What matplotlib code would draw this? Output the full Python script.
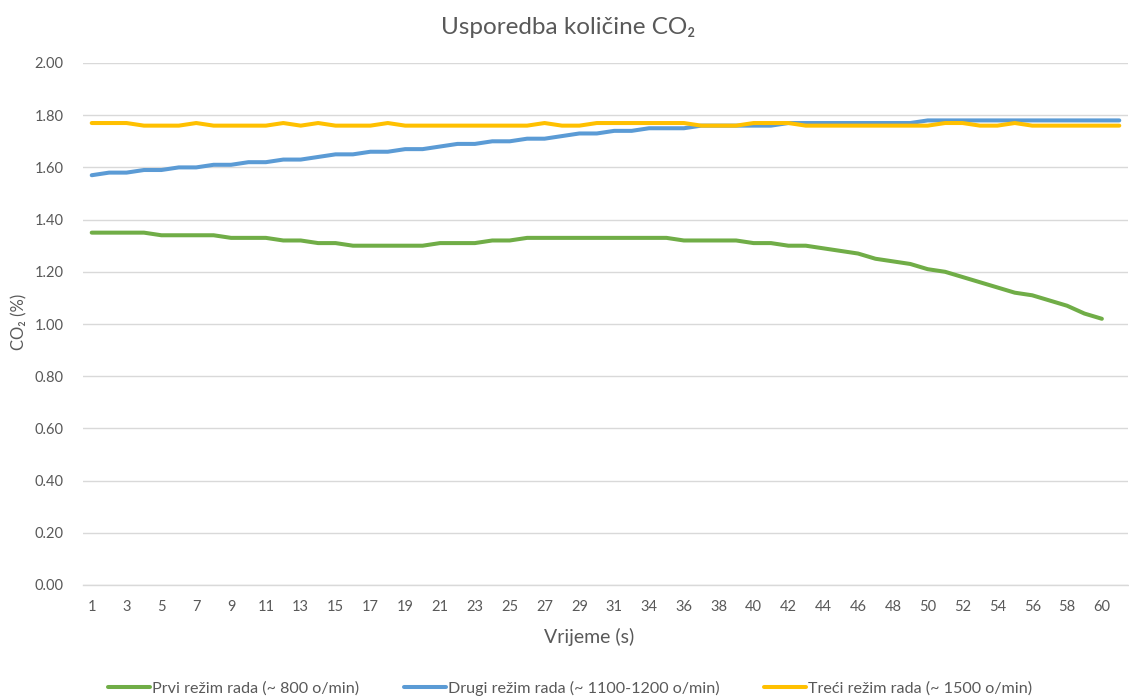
import matplotlib
matplotlib.use("Agg")
import matplotlib.pyplot as plt

plt.rcParams['font.family'] = ['Lato', 'DejaVu Sans']

categories = list(range(1, 32)) + list(range(33, 62))

prvi = [1.35, 1.35, 1.35, 1.35, 1.34, 1.34, 1.34, 1.34, 1.33, 1.33,
        1.33, 1.32, 1.32, 1.31, 1.31, 1.30, 1.30, 1.30, 1.30, 1.30,
        1.31, 1.31, 1.31, 1.32, 1.32, 1.33, 1.33, 1.33, 1.33, 1.33,
        1.33, 1.33, 1.33, 1.33, 1.32, 1.32, 1.32, 1.32, 1.31, 1.31,
        1.30, 1.30, 1.29, 1.28, 1.27, 1.25, 1.24, 1.23, 1.21, 1.20,
        1.18, 1.16, 1.14, 1.12, 1.11, 1.09, 1.07, 1.04, 1.02]

drugi = [1.57, 1.58, 1.58, 1.59, 1.59, 1.60, 1.60, 1.61, 1.61, 1.62,
         1.62, 1.63, 1.63, 1.64, 1.65, 1.65, 1.66, 1.66, 1.67, 1.67,
         1.68, 1.69, 1.69, 1.70, 1.70, 1.71, 1.71, 1.72, 1.73, 1.73,
         1.74, 1.74, 1.75, 1.75, 1.75, 1.76, 1.76, 1.76, 1.76, 1.76,
         1.77, 1.77, 1.77, 1.77, 1.77, 1.77, 1.77, 1.77, 1.78, 1.78,
         1.78, 1.78, 1.78, 1.78, 1.78, 1.78, 1.78, 1.78, 1.78, 1.78]

treci = [1.77, 1.77, 1.77, 1.76, 1.76, 1.76, 1.77, 1.76, 1.76, 1.76,
         1.76, 1.77, 1.76, 1.77, 1.76, 1.76, 1.76, 1.77, 1.76, 1.76,
         1.76, 1.76, 1.76, 1.76, 1.76, 1.76, 1.77, 1.76, 1.76, 1.77,
         1.77, 1.77, 1.77, 1.77, 1.77, 1.76, 1.76, 1.76, 1.77, 1.77,
         1.77, 1.76, 1.76, 1.76, 1.76, 1.76, 1.76, 1.76, 1.76, 1.77,
         1.77, 1.76, 1.76, 1.77, 1.76, 1.76, 1.76, 1.76, 1.76, 1.76]

series_names = ["Prvi režim rada (~ 800 o/min)",
                "Drugi režim rada (~ 1100-1200 o/min)",
                "Treći režim rada (~ 1500 o/min)"]
colors = ["#70AD47", "#5B9BD5", "#FFC000"]
yticks = [0.0, 0.2, 0.4, 0.6, 0.8, 1.0, 1.2, 1.4, 1.6, 1.8, 2.0]

W, H = 1129, 700
fig = plt.figure(figsize=(W / 100, H / 100), dpi=100)
ax = fig.add_axes([83 / W, (H - 585) / H, (1128 - 83) / W, (585 - 63) / H])

x = list(range(len(categories)))
for vals, name, c in zip([prvi, drugi, treci], series_names, colors):
    ax.plot(x[:len(vals)], vals, color=c, linewidth=2.9, label=name,
            solid_capstyle='round', solid_joinstyle='round', zorder=3)

ax.set_xlim(-0.5, len(categories) - 0.5)
ax.set_ylim(0, 2.0)
ax.set_yticks(yticks)
ax.set_yticklabels([f"{v:.2f}" for v in yticks])
ax.set_xticks(x[::2])
ax.set_xticklabels([str(c) for c in categories[::2]])

for s in ['top', 'right', 'left']:
    ax.spines[s].set_visible(False)
ax.spines['bottom'].set_color('#d9d9d9')
ax.spines['bottom'].set_linewidth(1.0)
ax.grid(axis='y', color='#d9d9d9', linewidth=1.0, zorder=0)
ax.set_axisbelow(True)
ax.tick_params(axis='both', length=0, labelsize=10.5, colors='#595959')
ax.tick_params(axis='y', pad=14)
ax.tick_params(axis='x', pad=11)

fig.text(568 / W, 1 - 27 / H, "Usporedba količine CO₂", ha='center', va='center',
         fontsize=17.5, color='#595959')
fig.text(19 / W, 1 - 322 / H, "CO₂ (%)", ha='center', va='center', rotation=90,
         fontsize=12, color='#595959')
fig.text(589 / W, 1 - 637 / H, "Vrijeme (s)", ha='center', va='center',
         fontsize=14, color='#595959')

leg = fig.legend(loc='center', bbox_to_anchor=(570 / W, 1 - 688 / H), ncol=3,
                 frameon=False, fontsize=11.6, handlelength=2.6, handletextpad=0.12,
                 columnspacing=2.8)
for t in leg.get_texts():
    t.set_color('#595959')

fig.savefig("out.png", dpi=100)
